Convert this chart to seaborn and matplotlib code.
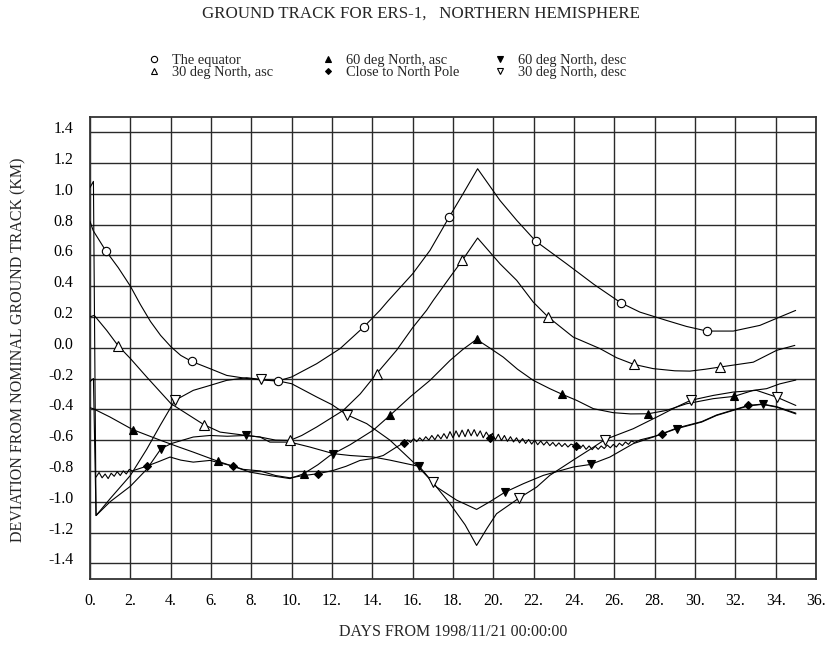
import numpy as np
import matplotlib
matplotlib.use("Agg")
import matplotlib.pyplot as plt
import matplotlib.transforms as mtransforms
from matplotlib.lines import Line2D
import seaborn as sns

# ---------------------------------------------------------------- data
x_ticks = [0, 2, 4, 6, 8, 10, 12, 14, 16, 18, 20, 22, 24, 26, 28, 30, 32, 34, 36]
x_tick_labels = ["0.", "2.", "4.", "6.", "8.", "10.", "12.", "14.", "16.", "18.",
                 "20.", "22.", "24.", "26.", "28.", "30.", "32.", "34.", "36."]
y_ticks = [-1.4, -1.2, -1.0, -0.8, -0.6, -0.4, -0.2, 0.0, 0.2, 0.4, 0.6, 0.8, 1.0, 1.2, 1.4]
y_tick_labels = ["-1.4", "-1.2", "-1.0", "-0.8", "-0.6", "-0.4", "-0.2", "0.0",
                 "0.2", "0.4", "0.6", "0.8", "1.0", "1.2", "1.4"]

# The equator
eq_days = [0.0, 0.16, 0.78, 1.4, 2.0, 2.5, 3.0, 3.5, 4.02, 4.5, 5.04, 5.95, 6.78,
           7.77, 8.43, 9.3, 10.0, 11.24, 12.4, 13.57, 14.38, 14.8, 16.0, 16.86,
           17.8, 18.5, 19.22, 20.33, 21.16, 22.1, 23.63, 25.0, 26.34, 27.27,
           28.59, 29.58, 30.59, 31.9, 33.22, 34.2, 34.99]
eq_dev = [0.82, 0.76, 0.63, 0.52, 0.40, 0.28, 0.17, 0.08, 0.005, -0.05, -0.089,
          -0.136, -0.18, -0.20, -0.208, -0.217, -0.19, -0.104, -0.006, 0.134,
          0.243, 0.307, 0.48, 0.632, 0.846, 1.0, 1.162, 0.956, 0.827, 0.692,
          0.545, 0.41, 0.29, 0.231, 0.177, 0.138, 0.108, 0.108, 0.145, 0.199, 0.242]
eq_marks = [0.78, 5.04, 9.3, 13.57, 17.8, 22.1, 26.34, 30.59]

# 30 deg North, ascending
a30_days = [0.0, 0.21, 0.83, 1.4, 2.0, 2.81, 4.02, 5.65, 6.45, 7.77, 8.43, 9.2,
            9.92, 10.5, 11.24, 12.56, 13.4, 14.21, 15.2, 16.0, 16.69, 17.02,
            17.85, 18.46, 19.22, 20.33, 21.16, 21.98, 22.72, 23.96, 25.29, 26.11,
            26.96, 27.93, 29.0, 29.75, 30.5, 31.22, 32.89, 34.05, 34.95]
a30_dev = [0.20, 0.21, 0.112, 0.012, -0.07, -0.19, -0.364, -0.50, -0.548, -0.57,
           -0.58, -0.60, -0.602, -0.57, -0.515, -0.407, -0.30, -0.169, -0.017,
           0.13, 0.243, 0.307, 0.458, 0.567, 0.712, 0.545, 0.437, 0.296, 0.199,
           0.069, -0.006, -0.065, -0.108, -0.136, -0.15, -0.152, -0.14, -0.126,
           -0.094, -0.017, 0.015]
a30_marks = [1.4, 5.65, 9.92, 14.21, 18.46, 22.72, 26.96, 31.22]

# 60 deg North, ascending
a60_days = [0.0, 0.16, 0.99, 2.12, 3.47, 4.3, 5.12, 6.36, 7.2, 7.93, 8.9, 9.92,
            10.6, 11.3, 11.9, 12.9, 14.05, 14.87, 15.87, 16.86, 17.85, 18.5,
            19.17, 19.8, 20.49, 21.2, 21.98, 22.8, 23.42, 24.13, 24.96, 25.95,
            26.8, 27.68, 28.59, 29.58, 30.9, 31.94, 32.89, 33.55, 34.2, 35.0]
a60_dev = [-0.39, -0.396, -0.45, -0.532, -0.60, -0.64, -0.678, -0.738, -0.775,
           -0.808, -0.83, -0.85, -0.818, -0.76, -0.70, -0.63, -0.535, -0.44,
           -0.32, -0.212, -0.083, -0.01, 0.054, 0.0, -0.061, -0.14, -0.212,
           -0.266, -0.303, -0.342, -0.396, -0.422, -0.43, -0.429, -0.407,
           -0.364, -0.331, -0.316, -0.277, -0.266, -0.235, -0.21]
a60_marks = [2.12, 6.36, 10.6, 14.87, 19.17, 23.42, 27.68, 31.94]

# Close to North Pole
pole_days = [0.30, 0.45, 0.60, 0.75, 0.90, 1.05, 1.20, 1.35, 1.50, 1.65, 1.80,
             1.95, 2.10, 2.84, 3.40, 3.97, 4.50, 5.12, 5.95, 6.50, 7.07, 7.60,
             8.43, 9.20, 9.92, 10.60, 11.32, 12.06, 12.70, 13.39, 14.00, 14.54,
             15.20, 15.57, 15.75, 15.90, 16.05, 16.20, 16.35, 16.50, 16.65,
             16.80, 16.95, 17.10, 17.25, 17.40, 17.55, 17.70, 17.85, 18.00,
             18.15, 18.30, 18.45, 18.60, 18.75, 18.90, 19.05, 19.20, 19.35,
             19.50, 19.65, 19.83, 19.95, 20.10, 20.25, 20.40, 20.55, 20.70,
             20.85, 21.00, 21.15, 21.30, 21.45, 21.60, 21.75, 21.90, 22.05,
             22.20, 22.35, 22.50, 22.65, 22.80, 22.95, 23.10, 23.25, 23.40,
             23.55, 23.70, 23.85, 24.10, 24.30, 24.45, 24.60, 24.75, 24.90,
             25.05, 25.20, 25.35, 25.50, 25.65, 25.80, 25.95, 26.10, 26.25,
             26.40, 26.55, 26.70, 26.85, 27.00, 27.30, 27.70, 28.00, 28.37,
             29.09, 30.33, 31.07, 31.90, 32.64, 33.35, 34.05, 35.00]
pole_dev = [-0.840, -0.810, -0.845, -0.820, -0.850, -0.815, -0.835, -0.805,
            -0.830, -0.800, -0.820, -0.790, -0.800, -0.768, -0.740, -0.710,
            -0.730, -0.743, -0.732, -0.750, -0.768, -0.790, -0.800, -0.830,
            -0.845, -0.830, -0.818, -0.797, -0.770, -0.732, -0.720, -0.700,
            -0.645, -0.617, -0.600, -0.615, -0.590, -0.610, -0.585, -0.605,
            -0.578, -0.600, -0.570, -0.598, -0.565, -0.592, -0.558, -0.590,
            -0.545, -0.585, -0.540, -0.580, -0.535, -0.578, -0.530, -0.572,
            -0.532, -0.575, -0.540, -0.585, -0.548, -0.585, -0.556, -0.598,
            -0.562, -0.603, -0.570, -0.608, -0.578, -0.612, -0.585, -0.618,
            -0.590, -0.622, -0.596, -0.626, -0.600, -0.630, -0.606, -0.632,
            -0.610, -0.636, -0.615, -0.640, -0.618, -0.642, -0.622, -0.645,
            -0.626, -0.639, -0.655, -0.632, -0.660, -0.638, -0.662, -0.640,
            -0.660, -0.638, -0.655, -0.632, -0.650, -0.628, -0.645, -0.620,
            -0.636, -0.612, -0.628, -0.605, -0.615, -0.598, -0.585, -0.575,
            -0.558, -0.522, -0.480, -0.437, -0.404, -0.375, -0.366, -0.383,
            -0.425]
pole_marks = [2.84, 7.07, 11.32, 15.57, 19.83, 24.10, 28.37, 32.64]

# 60 deg North, descending
d60_days = [0.0, 0.17, 0.30, 1.0, 2.0, 2.81, 3.52, 4.02, 5.12, 5.95, 6.8, 7.72,
            8.43, 8.92, 9.92, 10.9, 12.07, 12.9, 14.05, 14.87, 16.33, 17.19,
            18.18, 19.17, 19.83, 20.58, 21.49, 22.48, 23.96, 24.82, 25.78,
            26.94, 27.93, 29.09, 30.33, 31.07, 31.9, 32.64, 33.35, 34.05, 35.0]
d60_dev = [-0.22, -0.20, -1.09, -1.0, -0.90, -0.79, -0.656, -0.623, -0.58,
           -0.57, -0.575, -0.57, -0.58, -0.613, -0.613, -0.645, -0.688, -0.70,
           -0.71, -0.73, -0.771, -0.905, -0.99, -1.05, -1.0, -0.938, -0.883,
           -0.829, -0.775, -0.758, -0.71, -0.623, -0.58, -0.526, -0.483,
           -0.44, -0.407, -0.378, -0.368, -0.386, -0.43]
d60_marks = [3.52, 7.72, 12.07, 16.33, 20.58, 24.82, 29.09, 33.35]

# 30 deg North, descending
d30_days = [0.0, 0.17, 0.30, 1.0, 2.0, 2.81, 3.5, 4.21, 5.12, 5.95, 6.78, 7.77,
            8.48, 9.3, 10.0, 11.24, 12.0, 12.73, 13.72, 14.87, 16.2, 16.99,
            17.85, 18.6, 19.17, 19.7, 20.16, 21.27, 22.15, 22.8, 23.96, 24.8,
            25.53, 26.94, 28.26, 29.0, 29.78, 30.9, 31.9, 33.05, 34.05, 35.0]
d30_dev = [1.04, 1.08, -1.09, -0.98, -0.83, -0.66, -0.50, -0.342, -0.277,
           -0.245, -0.212, -0.195, -0.206, -0.215, -0.234, -0.32, -0.37,
           -0.435, -0.493, -0.60, -0.764, -0.873, -1.013, -1.15, -1.284, -1.17,
           -1.078, -0.977, -0.905, -0.829, -0.73, -0.66, -0.597, -0.526, -0.44,
           -0.39, -0.342, -0.31, -0.288, -0.277, -0.321, -0.375]
d30_marks = [4.21, 8.48, 12.73, 16.99, 21.27, 25.53, 29.78, 34.05]

series = [
    ("The equator", eq_days, eq_dev, eq_marks, "o", "white", 6.0),
    ("30 deg North, asc", a30_days, a30_dev, a30_marks, "^", "white", 6.5),
    ("60 deg North, asc", a60_days, a60_dev, a60_marks, "^", "black", 6.0),
    ("Close to North Pole", pole_days, pole_dev, pole_marks, "D", "black", 4.0),
    ("60 deg North, desc", d60_days, d60_dev, d60_marks, "v", "black", 6.0),
    ("30 deg North, desc", d30_days, d30_dev, d30_marks, "v", "white", 6.5),
]

# ---------------------------------------------------------------- style
sns.set_style("white")
plt.rcParams["font.family"] = ["Liberation Serif", "DejaVu Serif"]
plt.rcParams["axes.unicode_minus"] = False

W, H = 827, 646
fig = plt.figure(figsize=(W / 100, H / 100), dpi=100)
ax_l, ax_r, ax_t, ax_b = 90, 816, 116.7, 578.7
ax = fig.add_axes([ax_l / W, 1 - ax_b / H, (ax_r - ax_l) / W, (ax_b - ax_t) / H])

# grid drawn under the tracks
for xv in x_ticks:
    ax.axvline(xv, color="#2a2a2a", lw=1.0, zorder=0)
for yv in y_ticks:
    ax.axhline(yv, color="#2a2a2a", lw=1.0, zorder=0)

for label, d, v, marks, mk, face, ms in series:
    d = np.asarray(d, dtype=float)
    v = np.asarray(v, dtype=float)
    sns.lineplot(x=d, y=v, ax=ax, color="black", lw=0.8, sort=False,
                 estimator=None, zorder=3)
    sel = np.isin(np.round(d, 2), np.round(marks, 2))
    ax.plot(d[sel], v[sel], ls="none", marker=mk, ms=ms, mfc=face, mec="black",
            mew=0.8, zorder=4)

ax.set_xlim(0, 36)
ax.set_ylim(-1.5, 1.5)
ax.set_xticks(x_ticks)
ax.set_xticklabels(x_tick_labels)
ax.set_yticks(y_ticks)
ax.set_yticklabels(y_tick_labels)
ax.tick_params(axis="both", length=0, labelsize=11.5, colors="black")
ax.tick_params(axis="x", pad=10)
ax.tick_params(axis="y", pad=12)
shift = mtransforms.ScaledTranslation(0, 5 / 100, fig.dpi_scale_trans)
for t in ax.get_yticklabels():
    t.set_transform(t.get_transform() + shift)
for s in ax.spines.values():
    s.set_color("#333333")
    s.set_linewidth(1.3)
ax.set_xlabel("")
ax.set_ylabel("")

# titles
fig.text(421 / W, 1 - 14 / H, "GROUND TRACK FOR ERS-1,   NORTHERN HEMISPHERE",
         ha="center", va="center", fontsize=12.2)
fig.text(453 / W, 1 - 632 / H, "DAYS FROM 1998/11/21 00:00:00",
         ha="center", va="center", fontsize=11.5)
fig.text(18 / W, 1 - 350 / H, "DEVIATION FROM NOMINAL GROUND TRACK (KM)",
         ha="center", va="center", rotation=90, fontsize=11.5)

# legend: three columns of two entries
handles = []
for label, d, v, marks, mk, face, ms in series:
    handles.append(Line2D([], [], ls="none", marker=mk, ms=ms * 0.75, mfc=face,
                          mec="black", mew=0.8, label=label))
col_x = [158, 332, 504]
for i, cx in enumerate(col_x):
    pair = handles[2 * i:2 * i + 2]
    fig.legend(handles=pair, loc="upper left",
               bbox_to_anchor=((cx - 11) / W, 1 - 53.5 / H),
               frameon=False, fontsize=10.4, handlelength=1.0,
               handletextpad=0.75, labelspacing=-0.05, borderpad=0,
               borderaxespad=0)

fig.savefig("out.png", dpi=100)
